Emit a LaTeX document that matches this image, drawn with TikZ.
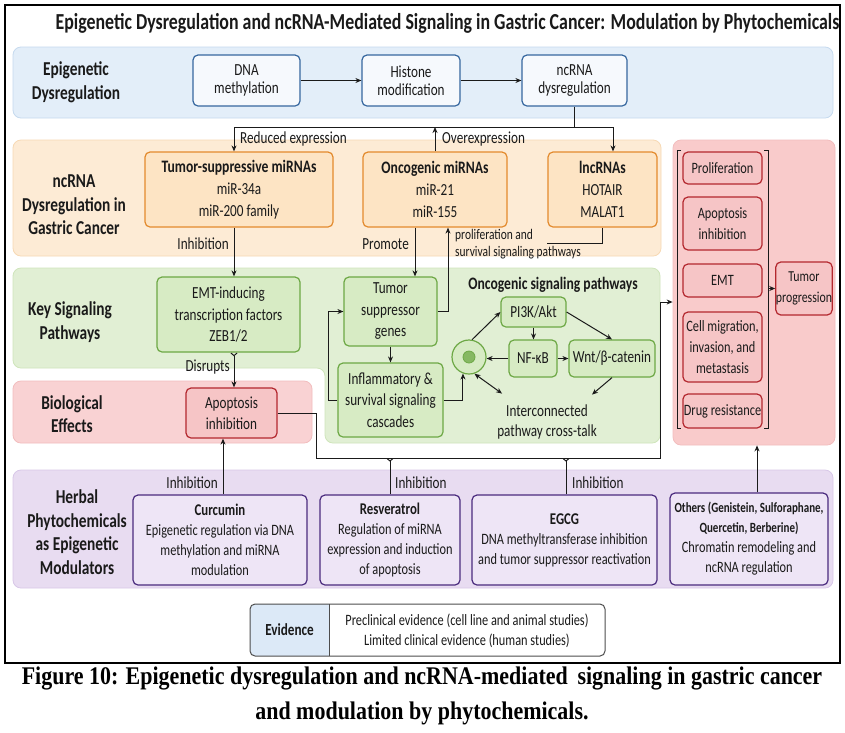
\documentclass[tikz,border=0pt]{standalone}
\usepackage{fontspec}
\setmainfont{Carlito}[FakeStretch=0.78]
\newfontfamily\capfont{Liberation Serif}[FakeStretch=0.865]
\usetikzlibrary{arrows.meta,calc}
\newcommand\myfs[2]{\fontsize{#1}{#2}\selectfont}
\definecolor{bandblue}{HTML}{E3EEF9}
\definecolor{bandblueline}{HTML}{C6DAEF}
\definecolor{boxblue}{HTML}{36679F}
\definecolor{boxbluefill}{HTML}{F6F9FD}
\definecolor{bandorange}{HTML}{FDEBD5}
\definecolor{bandorangeline}{HTML}{F7D9B4}
\definecolor{boxorange}{HTML}{E38A2D}
\definecolor{boxorangefill}{HTML}{FDE4C4}
\definecolor{bandgreen}{HTML}{E1EFD4}
\definecolor{bandgreenline}{HTML}{CFE5BB}
\definecolor{boxgreen}{HTML}{6DA845}
\definecolor{boxgreenfill}{HTML}{D7EBC4}
\definecolor{dotgreen}{HTML}{86B862}
\definecolor{bandred}{HTML}{F9D2D3}
\definecolor{bandredline}{HTML}{F2BDBE}
\definecolor{boxred}{HTML}{B3272E}
\definecolor{boxredfill}{HTML}{F6C5C6}
\definecolor{panelred}{HTML}{F9CBCB}
\definecolor{bandpurple}{HTML}{E8DCF1}
\definecolor{bandpurpleline}{HTML}{D8C7E8}
\definecolor{boxpurple}{HTML}{4A2B7E}
\definecolor{boxpurplefill}{HTML}{EEE5F6}
\definecolor{evblue}{HTML}{DCE9F7}
\definecolor{evline}{HTML}{4D4D4D}
\definecolor{ink}{HTML}{1A1A1A}
\begin{document}
\begin{tikzpicture}[x=1pt, y=-1pt,
  bandbase/.style={rounded corners=8pt, line width=0.8pt},
  boxbase/.style={rounded corners=5pt, line width=1.2pt, align=center, inner sep=0pt, text=ink},
  bbox/.style={boxbase, draw=boxblue, fill=boxbluefill, font=\myfs{16.9}{18}},
  obox/.style={boxbase, draw=boxorange, fill=boxorangefill, font=\myfs{16.9}{22}},
  gbox/.style={boxbase, draw=boxgreen, fill=boxgreenfill, font=\myfs{16.9}{21.5}},
  rbox/.style={boxbase, draw=boxred, fill=boxredfill, font=\myfs{15.8}{21}},
  pbox/.style={boxbase, draw=boxpurple, fill=boxpurplefill, font=\myfs{15.8}{20}},
  lbl/.style={font=\bfseries\myfs{19.7}{23.5}, align=center, text=ink},
  smallnote/.style={font=\myfs{16.9}{18}, inner sep=1pt, text=ink},
  conn/.style={draw=ink, line width=1pt},
  arr/.style={conn, -{Stealth[length=6pt,width=5pt]}},
  arrboth/.style={conn, {Stealth[length=6pt,width=5pt]}-{Stealth[length=6pt,width=5pt]}},
  tee/.style={conn, -{Straight Barb[reversed,length=2.5pt,width=6pt]}},
  teearr/.style={conn, {Straight Barb[reversed,length=2.5pt,width=6pt]}-{Stealth[length=6pt,width=5pt]}}
]
\useasboundingbox (0,0) rectangle (845,732);
\fill[white] (0,0) rectangle (845,732);

% bands
\draw[bandbase, fill=bandblue, draw=bandblueline] (13,47) rectangle (833,118);
\draw[bandbase, fill=bandorange, draw=bandorangeline] (13,140) rectangle (661,256);
\draw[bandbase, fill=bandgreen, draw=bandgreenline] (13,268) -- (660,268) -- (660,443) -- (325,443) -- (325,368) -- (13,368) -- cycle;
\draw[bandbase, fill=bandred, draw=bandredline] (13,381) rectangle (312,443);
\node[draw=bandredline, fill=panelred, rounded corners=8pt, minimum width=162, minimum height=305, inner sep=0pt, line width=0.8pt] (panel) at (754,292.5) {};
\draw[bandbase, fill=bandpurple, draw=bandpurpleline] (13,470) rectangle (833,588);

% frame and title
\draw[line width=2pt, black] (5,5) rectangle (840,663);
\node[font=\bfseries\myfs{22.9}{24}, text=ink] (title) at (447.5,23) {Epigenetic Dysregulation and ncRNA-Mediated Signaling in Gastric Cancer: Modulation by Phytochemicals};

% band labels
\node[lbl] (l1) at (76,82) {Epigenetic\\Dysregulation};
\node[lbl] (l2) at (74,205) {ncRNA\\Dysregulation in\\Gastric Cancer};
\node[lbl] (l3) at (70,322) {Key Signaling\\Pathways};
\node[lbl] (l4) at (72,414) {Biological\\Effects};
\node[lbl] (l5) at (77,532) {Herbal\\Phytochemicals\\as Epigenetic\\Modulators};

% row 1
\node[bbox, minimum width=107, minimum height=51] (dna) at (246.5,80.5) {DNA\\methylation};
\node[bbox, minimum width=98, minimum height=51] (his) at (411,80.5) {Histone\\modification};
\node[bbox, minimum width=105, minimum height=51] (ncr) at (574.5,80.5) {ncRNA\\dysregulation};
\draw[arr] (dna) -- (his);
\draw[arr] (his) -- (ncr);

% row 2
\node[obox, minimum width=188, minimum height=75] (ts) at (239,189.5) {{\bfseries\myfs{17.5}{22}Tumor-suppressive miRNAs}\\miR-34a\\miR-200 family};
\node[obox, minimum width=144, minimum height=75] (onc) at (435,189.5) {{\bfseries\myfs{17.5}{22}Oncogenic miRNAs}\\miR-21\\miR-155};
\node[obox, minimum width=109, minimum height=75] (lnc) at (602.5,189.5) {{\bfseries\myfs{17.5}{22}lncRNAs}\\HOTAIR\\MALAT1};

\coordinate (hL) at (234,127);
\coordinate (hR) at (613,127);
\draw[conn] (ncr.south) -- (ncr.south |- hL);
\draw[conn] (hL) -- (hR);
\draw[arr] (hL) -- (hL |- ts.north);
\draw[arr] (hR) -- (hR |- lnc.north);
\draw[arr] (onc.north) -- (onc.north |- hL);
\node[smallnote, anchor=west] (lre) at (239,139) {Reduced expression};
\node[smallnote, anchor=west] (lov) at (441,139) {Overexpression};

% row 3 green
\node[gbox, minimum width=143, minimum height=75] (emt) at (228.5,314.5) {EMT-inducing\\transcription factors\\ZEB1/2};
\node[gbox, minimum width=93, minimum height=69] (tsg) at (390.5,311.5) {Tumor\\suppressor\\genes};
\node[gbox, minimum width=105, minimum height=74] (inf) at (390.5,400) {Inflammatory \&\\survival signaling\\cascades};

\draw[arr] (ts.south -| hL) -- (emt.north -| hL);
\node[smallnote, anchor=east] (linh) at (230,244) {Inhibition};
\coordinate (pm) at (415,0);
\draw[arr] (onc.south -| pm) -- (tsg.north -| pm);
\node[smallnote, anchor=east] (lpro) at (410,244) {Promote};
\coordinate (up) at (448,0);
\draw[arr] (tsg.east) -| (onc.south -| up);
\node[font=\myfs{14.7}{17}, align=left, anchor=north west, inner sep=0pt, text=ink] (prolab) at (455,229) {proliferation and\\survival signaling pathways};
\coordinate (lncend) at (547,243);
\draw[conn] (lnc.south) |- (lncend);

\draw[arr] (tsg.south) -- (inf.north);
\draw[arr] (inf.west) -- ++(-9,0) |- (tsg.west);

% oncogenic signaling cluster
\node[font=\bfseries\myfs{17.5}{18}, text=ink] (ostitle) at (553,285) {Oncogenic signaling pathways};
\node[gbox, minimum width=65, minimum height=30] (pi3k) at (533.5,312) {PI3K/Akt};
\node[gbox, minimum width=48, minimum height=37] (nfkb) at (533,358.5) {NF-κB};
\node[gbox, minimum width=86, minimum height=37] (wnt) at (612,358.5) {Wnt/β-catenin};
\node[circle, draw=boxgreen, fill=boxgreenfill, line width=1.2pt, minimum size=34, inner sep=0pt] (circ) at (469,357) {};
\node[circle, draw=boxgreen, fill=dotgreen, line width=0.8pt, minimum size=12, inner sep=0pt] (dot) at (circ.center) {};
\node[font=\myfs{16.9}{20}, align=center, text=ink, inner sep=0pt] (icx) at (547,422) {Interconnected\\pathway cross-talk};

\draw[arr] (circ.80) -- (pi3k.west);
\draw[arr] (pi3k.east) -- (wnt.north);
\draw[arr] (pi3k.south) -- (pi3k.south |- nfkb.north);
\draw[arr] (nfkb.west) -- (nfkb.west -| circ.east);
\draw[arr] (nfkb.east) -- (wnt.west);
\draw[arrboth] (circ.-72) -- ($(icx.north west)+(5,-11)$);
\draw[arr] (wnt.south) -- ($(icx.north east)+(-5,-10)$);
\draw[arr] (inf.east) -| (circ.-110);

% biological effects
\node[rbox, font=\myfs{16.9}{21}, minimum width=91, minimum height=50] (apo) at (231.5,413) {Apoptosis\\inhibition};
\draw[teearr] (emt.south -| hL) -- (apo.north -| hL);
\node[smallnote, anchor=east] (ldis) at (231,367) {Disrupts};

\coordinate (b1) at (316,458);
\coordinate (b2) at (660,458);
\coordinate (pin) at (673,302);
\draw[arr] (apo.east) -| (b1) -- (b2) |- (panel.west |- pin);

% right panel
\node[rbox, minimum width=79, minimum height=32] (prol) at (722.5,168) {Proliferation};
\node[rbox, minimum width=79, minimum height=53] (apo2) at (722.5,223.5) {Apoptosis\\inhibition};
\node[rbox, minimum width=79, minimum height=33] (emt2) at (722.5,280.5) {EMT};
\node[rbox, minimum width=79, minimum height=70] (mig) at (722.5,347) {Cell migration,\\invasion, and\\metastasis};
\node[rbox, minimum width=79, minimum height=34] (drug) at (722.5,411) {Drug resistance};
\node[rbox, font=\myfs{15.2}{21}, minimum width=56, minimum height=53] (tp) at (804,288.5) {Tumor\\progression};
\draw[conn, line width=0.9pt] (681,150) -- (677,150) -- (677,428) -- (681,428);
\draw[conn, line width=0.9pt] (764,150) -- (768,150) -- (768,428) -- (764,428);
\coordinate (brR) at (768,288.5);
\draw[arr] (brR) -- (tp.west);

% phytochemicals
\node[pbox, minimum width=174, minimum height=90] (cur) at (220,540) {{\bfseries\myfs{16.4}{20}Curcumin}\\Epigenetic regulation via DNA\\methylation and miRNA\\modulation};
\node[pbox, minimum width=140, minimum height=90] (res) at (390,540) {{\bfseries\myfs{16.4}{20}Resveratrol}\\Regulation of miRNA\\expression and induction\\of apoptosis};
\node[pbox, minimum width=185, minimum height=90] (egcg) at (564.5,540) {{\bfseries\myfs{16.4}{22}EGCG}\\DNA methyltransferase inhibition\\and tumor suppressor reactivation};
\node[pbox, minimum width=158, minimum height=92] (oth) at (749,539) {{\bfseries\myfs{14.1}{20}Others (Genistein, Sulforaphane,}\\{\bfseries\myfs{14.1}{20}Quercetin, Berberine)}\\Chromatin remodeling and\\ncRNA regulation};

\coordinate (cx) at (223,0);
\draw[arr] (cur.north -| cx) -- (apo.south -| cx);
\node[smallnote, anchor=east] (li1) at (219,483) {Inhibition};
\draw[tee] (res.north) -- (res.north |- b1);
\node[smallnote, anchor=west] (li2) at (394,483) {Inhibition};
\coordinate (ex) at (566,0);
\draw[tee] (egcg.north -| ex) -- (b1 -| ex);
\node[smallnote, anchor=west] (li3) at (571,483) {Inhibition};
\coordinate (ox) at (757,0);
\draw[arr] (oth.north -| ox) -- (panel.south -| ox);

% evidence
\begin{scope}
\clip[rounded corners=5pt] (250,604) rectangle (605,656);
\fill[white] (250,604) rectangle (605,656);
\fill[evblue] (250,604) rectangle (329,656);
\end{scope}
\draw[evline, line width=1pt, rounded corners=5pt] (250,604) rectangle (605,656);
\draw[evline, line width=1pt] (329,604) -- (329,656);
\node[font=\bfseries\myfs{16.9}{18}, text=ink] (evl) at (289.5,630) {Evidence};
\node[font=\myfs{15.8}{20}, align=center, text=ink] (evr) at (467,631) {Preclinical evidence (cell line and animal studies)\\Limited clinical evidence (human studies)};

% caption
\node[font=\capfont\bfseries\myfs{25.4}{35}, align=center, text=black] (cap) at (422,696) {Figure 10: Epigenetic dysregulation and ncRNA-mediated\ \,signaling in gastric cancer\\and modulation by phytochemicals.};
\end{tikzpicture}
\end{document}
